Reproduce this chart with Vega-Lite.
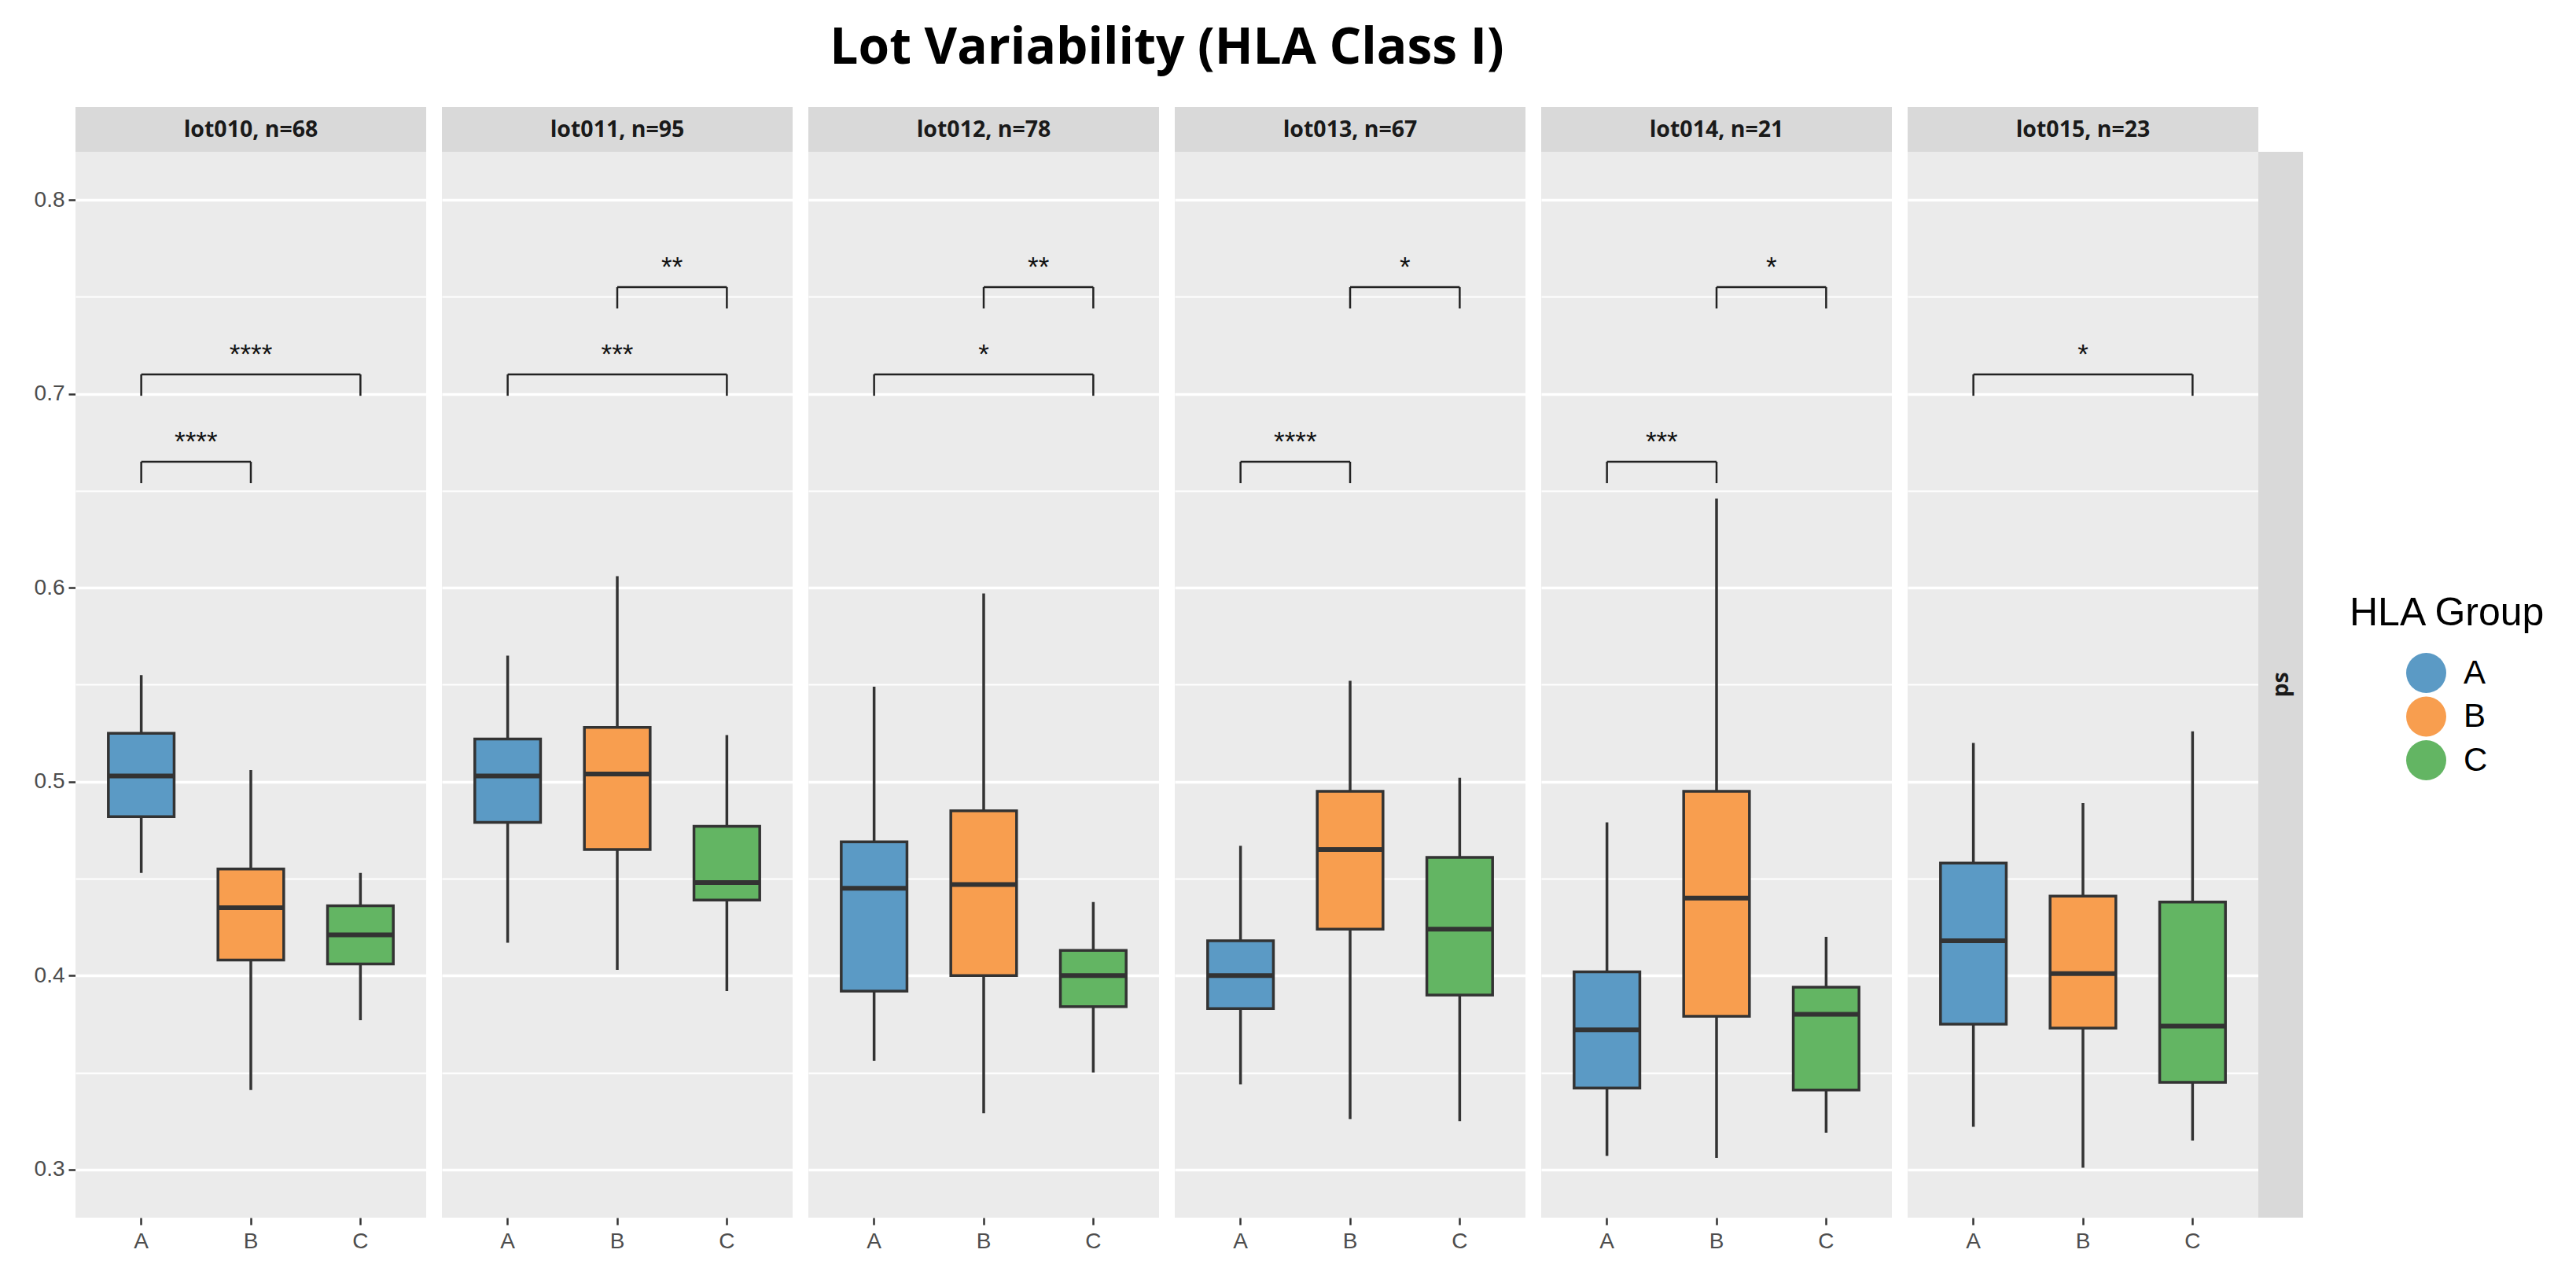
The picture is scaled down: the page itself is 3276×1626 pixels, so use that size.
{
  "$schema": "https://vega.github.io/schema/vega-lite/v6.json",
  "background": "white",
  "padding": {"left": 40, "top": 30, "right": 10, "bottom": 10},
  "title": {
    "text": "Lot Variability (HLA Class I)",
    "font": "Open Sans",
    "fontSize": 64,
    "fontWeight": "bold",
    "color": "black",
    "anchor": "start",
    "align": "center",
    "dx": 1388,
    "offset": 42,
    "frame": "group"
  },
  "datasets": {
    "strips": [
      {"lot": "lot010", "label": "lot010, n=68"},
      {"lot": "lot011", "label": "lot011, n=95"},
      {"lot": "lot012", "label": "lot012, n=78"},
      {"lot": "lot013", "label": "lot013, n=67"},
      {"lot": "lot014", "label": "lot014, n=21"},
      {"lot": "lot015", "label": "lot015, n=23"}
    ],
    "rows": [
      {"lot": "lot010", "kind": "box", "grp": "A", "lo": 0.453, "q1": 0.482, "med": 0.503, "q3": 0.525, "hi": 0.555},
      {"lot": "lot010", "kind": "box", "grp": "B", "lo": 0.341, "q1": 0.408, "med": 0.435, "q3": 0.455, "hi": 0.506},
      {"lot": "lot010", "kind": "box", "grp": "C", "lo": 0.377, "q1": 0.406, "med": 0.421, "q3": 0.436, "hi": 0.453},
      {"lot": "lot011", "kind": "box", "grp": "A", "lo": 0.417, "q1": 0.479, "med": 0.503, "q3": 0.522, "hi": 0.565},
      {"lot": "lot011", "kind": "box", "grp": "B", "lo": 0.403, "q1": 0.465, "med": 0.504, "q3": 0.528, "hi": 0.606},
      {"lot": "lot011", "kind": "box", "grp": "C", "lo": 0.392, "q1": 0.439, "med": 0.448, "q3": 0.477, "hi": 0.524},
      {"lot": "lot012", "kind": "box", "grp": "A", "lo": 0.356, "q1": 0.392, "med": 0.445, "q3": 0.469, "hi": 0.549},
      {"lot": "lot012", "kind": "box", "grp": "B", "lo": 0.329, "q1": 0.400, "med": 0.447, "q3": 0.485, "hi": 0.597},
      {"lot": "lot012", "kind": "box", "grp": "C", "lo": 0.350, "q1": 0.384, "med": 0.400, "q3": 0.413, "hi": 0.438},
      {"lot": "lot013", "kind": "box", "grp": "A", "lo": 0.344, "q1": 0.383, "med": 0.400, "q3": 0.418, "hi": 0.467},
      {"lot": "lot013", "kind": "box", "grp": "B", "lo": 0.326, "q1": 0.424, "med": 0.465, "q3": 0.495, "hi": 0.552},
      {"lot": "lot013", "kind": "box", "grp": "C", "lo": 0.325, "q1": 0.390, "med": 0.424, "q3": 0.461, "hi": 0.502},
      {"lot": "lot014", "kind": "box", "grp": "A", "lo": 0.307, "q1": 0.342, "med": 0.372, "q3": 0.402, "hi": 0.479},
      {"lot": "lot014", "kind": "box", "grp": "B", "lo": 0.306, "q1": 0.379, "med": 0.440, "q3": 0.495, "hi": 0.646},
      {"lot": "lot014", "kind": "box", "grp": "C", "lo": 0.319, "q1": 0.341, "med": 0.380, "q3": 0.394, "hi": 0.420},
      {"lot": "lot015", "kind": "box", "grp": "A", "lo": 0.322, "q1": 0.375, "med": 0.418, "q3": 0.458, "hi": 0.520},
      {"lot": "lot015", "kind": "box", "grp": "B", "lo": 0.301, "q1": 0.373, "med": 0.401, "q3": 0.441, "hi": 0.489},
      {"lot": "lot015", "kind": "box", "grp": "C", "lo": 0.315, "q1": 0.345, "med": 0.374, "q3": 0.438, "hi": 0.526},
      {"lot": "lot010", "kind": "sig", "g1": "A", "g2": "B", "mid": "A-B", "y": 0.665, "tip": 0.654, "label": "****"},
      {"lot": "lot010", "kind": "sig", "g1": "A", "g2": "C", "mid": "B", "y": 0.710, "tip": 0.699, "label": "****"},
      {"lot": "lot011", "kind": "sig", "g1": "A", "g2": "C", "mid": "B", "y": 0.710, "tip": 0.699, "label": "***"},
      {"lot": "lot011", "kind": "sig", "g1": "B", "g2": "C", "mid": "B-C", "y": 0.755, "tip": 0.744, "label": "**"},
      {"lot": "lot012", "kind": "sig", "g1": "A", "g2": "C", "mid": "B", "y": 0.710, "tip": 0.699, "label": "*"},
      {"lot": "lot012", "kind": "sig", "g1": "B", "g2": "C", "mid": "B-C", "y": 0.755, "tip": 0.744, "label": "**"},
      {"lot": "lot013", "kind": "sig", "g1": "A", "g2": "B", "mid": "A-B", "y": 0.665, "tip": 0.654, "label": "****"},
      {"lot": "lot013", "kind": "sig", "g1": "B", "g2": "C", "mid": "B-C", "y": 0.755, "tip": 0.744, "label": "*"},
      {"lot": "lot014", "kind": "sig", "g1": "A", "g2": "B", "mid": "A-B", "y": 0.665, "tip": 0.654, "label": "***"},
      {"lot": "lot014", "kind": "sig", "g1": "B", "g2": "C", "mid": "B-C", "y": 0.755, "tip": 0.744, "label": "*"},
      {"lot": "lot015", "kind": "sig", "g1": "A", "g2": "C", "mid": "B", "y": 0.710, "tip": 0.699, "label": "*"}
    ]
  },
  "spacing": 0,
  "resolve": {"scale": {"x": "independent", "y": "independent"}},
  "vconcat": [
    {
      "data": {"name": "strips"},
      "facet": {"column": {"field": "lot", "type": "nominal", "header": null}},
      "spacing": 20,
      "spec": {
        "width": 446,
        "height": 57,
        "view": {"fill": "#D9D9D9", "stroke": null},
        "mark": {"type": "text", "font": "Open Sans", "fontWeight": "bold", "fontSize": 28.5, "color": "#1A1A1A", "baseline": "middle"},
        "encoding": {
          "text": {"field": "label"},
          "y": {
            "datum": "s",
            "type": "nominal",
            "title": null,
            "axis": {"labels": true, "labelOpacity": 0, "ticks": false, "domain": false, "grid": false, "minExtent": 56, "maxExtent": 56}
          }
        }
      }
    },
    {
      "spacing": 0,
      "resolve": {"scale": {"x": "independent", "y": "independent"}},
      "hconcat": [
        {
          "data": {"name": "rows"},
          "facet": {"column": {"field": "lot", "type": "nominal", "header": null}},
          "spacing": 20,
          "spec": {
            "width": 446,
            "height": 1355,
            "layer": [
              {
                "transform": [{"filter": "datum.kind == 'box'"}],
                "mark": {"type": "rule", "color": "#333333", "strokeWidth": 3.5},
                "encoding": {
                  "x": {
                    "field": "grp", "type": "nominal", "title": null, "bandPosition": 0.5,
                    "scale": {"domain": ["A", "A-B", "B", "B-C", "C"], "paddingInner": 0, "paddingOuter": 0.7},
                    "axis": {"values": ["A", "B", "C"], "labelAngle": 0, "labelFontSize": 28, "labelColor": "#4D4D4D", "tickColor": "#333333", "tickSize": 9, "tickWidth": 2.5, "domain": false, "grid": false, "labelPadding": 7}
                  },
                  "y": {
                    "field": "lo", "type": "quantitative", "title": null,
                    "scale": {"domain": [0.2752, 0.8248], "nice": false, "zero": false},
                    "axis": {
                      "values": [0.3, 0.35, 0.4, 0.45, 0.5, 0.55, 0.6, 0.65, 0.7, 0.75, 0.8],
                      "labelExpr": "round(datum.value * 100) % 10 == 0 ? format(datum.value, '.1f') : ''",
                      "labelFontSize": 28, "labelColor": "#4D4D4D", "labelPadding": 5,
                      "tickColor": "#333333", "tickSize": 9, "tickWidth": 2.5,
                      "tickOpacity": {"condition": {"test": "round(datum.value * 100) % 10 == 0", "value": 1}, "value": 0},
                      "domain": false, "grid": true, "gridColor": "#FFFFFF",
                      "gridWidth": {"condition": {"test": "round(datum.value * 100) % 10 == 0", "value": 3.5}, "value": 1.8},
                      "minExtent": 56, "maxExtent": 56
                    }
                  },
                  "y2": {"field": "hi"}
                }
              },
              {
                "transform": [{"filter": "datum.kind == 'box'"}],
                "mark": {"type": "bar", "stroke": "#333333", "strokeWidth": 3.5, "width": {"band": 1.2}},
                "encoding": {
                  "x": {"field": "grp", "type": "nominal", "title": null},
                  "y": {"field": "q1", "type": "quantitative", "title": null},
                  "y2": {"field": "q3"},
                  "fill": {
                    "field": "grp", "type": "nominal", "title": "HLA Group",
                    "scale": {"domain": ["A", "B", "C"], "range": ["#5B9AC5", "#F89E4F", "#63B563"]},
                    "legend": {
                      "orient": "none", "legendX": 2892, "legendY": 619, "padding": 0,
                      "symbolType": "circle", "symbolSize": 2600, "symbolStrokeWidth": 0, "symbolOpacity": 1, "symbolOffset": 72,
                      "titleFont": "Liberation Sans", "titleFontSize": 50, "titleFontWeight": "normal", "titleColor": "black", "titlePadding": 25, "titleLimit": 600,
                      "labelFont": "Liberation Sans", "labelFontSize": 42, "labelColor": "black", "labelOffset": 22, "rowPadding": 4.5
                    }
                  }
                }
              },
              {
                "transform": [{"filter": "datum.kind == 'box'"}],
                "mark": {"type": "tick", "color": "#333333", "thickness": 6, "size": 84, "opacity": 1},
                "encoding": {
                  "x": {"field": "grp", "type": "nominal", "title": null, "bandPosition": 0.5},
                  "y": {"field": "med", "type": "quantitative", "title": null}
                }
              },
              {
                "transform": [{"filter": "datum.kind == 'sig'"}],
                "mark": {"type": "rule", "color": "#222222", "strokeWidth": 2.5},
                "encoding": {
                  "x": {"field": "g1", "type": "nominal", "title": null, "bandPosition": 0.5},
                  "x2": {"field": "g2", "bandPosition": 0.5},
                  "y": {"field": "y", "type": "quantitative", "title": null}
                }
              },
              {
                "transform": [{"filter": "datum.kind == 'sig'"}],
                "mark": {"type": "rule", "color": "#222222", "strokeWidth": 2.5},
                "encoding": {
                  "x": {"field": "g1", "type": "nominal", "title": null, "bandPosition": 0.5},
                  "y": {"field": "tip", "type": "quantitative", "title": null},
                  "y2": {"field": "y"}
                }
              },
              {
                "transform": [{"filter": "datum.kind == 'sig'"}],
                "mark": {"type": "rule", "color": "#222222", "strokeWidth": 2.5},
                "encoding": {
                  "x": {"field": "g2", "type": "nominal", "title": null, "bandPosition": 0.5},
                  "y": {"field": "tip", "type": "quantitative", "title": null},
                  "y2": {"field": "y"}
                }
              },
              {
                "transform": [{"filter": "datum.kind == 'sig'"}],
                "mark": {"type": "text", "font": "Liberation Sans", "fontSize": 35, "color": "#111111", "baseline": "alphabetic", "dy": -14},
                "encoding": {
                  "x": {"field": "mid", "type": "nominal", "title": null, "bandPosition": 0.5},
                  "y": {"field": "y", "type": "quantitative", "title": null},
                  "text": {"field": "label"}
                }
              }
            ]
          }
        },
        {
          "data": {"values": [{"strip": "ps"}]},
          "width": 57,
          "height": 1355,
          "view": {"fill": "#D9D9D9", "stroke": null},
          "mark": {"type": "text", "font": "Open Sans", "fontWeight": "bold", "fontSize": 28.5, "color": "#1A1A1A", "angle": 270, "baseline": "middle"},
          "encoding": {"text": {"field": "strip"}}
        }
      ]
    }
  ],
  "config": {
    "font": "Liberation Sans",
    "view": {"stroke": null, "fill": "#EBEBEB"},
    "axis": {"labelFont": "Liberation Sans"}
  }
}
